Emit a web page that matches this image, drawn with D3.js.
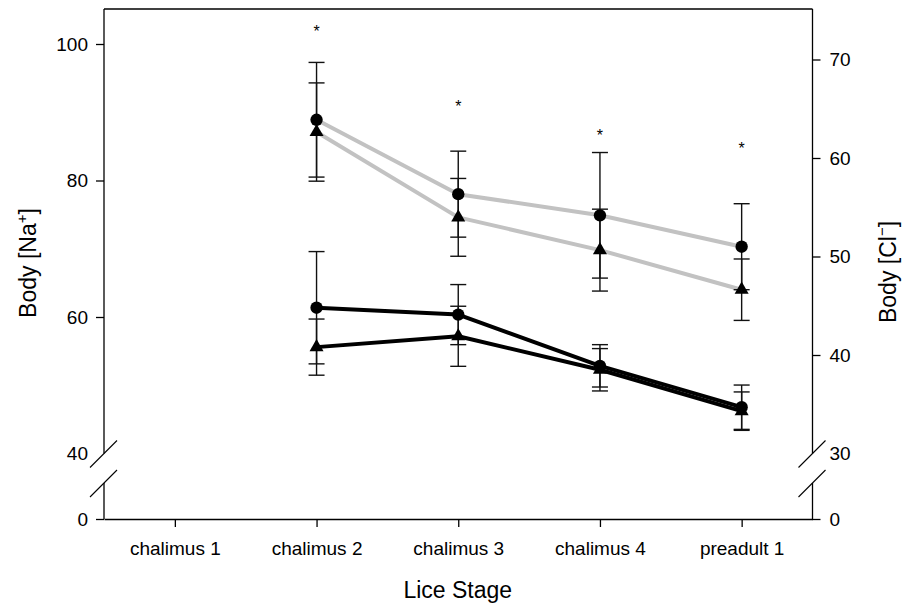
<!DOCTYPE html>
<html>
<head>
<meta charset="utf-8">
<script src="https://cdn.jsdelivr.net/npm/d3@7"></script>
<style>
  html, body { margin: 0; padding: 0; background: #fff; }
  svg { display: block; }
  text { font-family: "Liberation Sans", Arial, sans-serif; fill: #000; }
</style>
</head>
<body>
<svg id="chart" width="902" height="607"></svg>
<script>
// Lice stages along the x axis
const stages = ["chalimus 1", "chalimus 2", "chalimus 3", "chalimus 4", "preadult 1"];

// Body Na+ (left axis), grey lines
const naCircle      = [null, 88.9, 78.0, 74.9, 70.3];
const naCircleErr   = [null, 8.4, 6.3, 9.2, 6.3];
const naTriangle    = [null, 87.1, 74.6, 69.8, 64.0];
const naTriangleErr = [null, 7.2, 5.7, 6.0, 4.5];

// Body Cl- (right axis), black lines
const clCircle      = [null, 44.8, 44.1, 38.9, 34.7];
const clCircleErr   = [null, 5.7, 3.05, 2.15, 2.25];
const clTriangle    = [null, 40.8, 41.9, 38.5, 34.3];
const clTriangleErr = [null, 2.85, 3.05, 2.15, 1.95];

// Significance markers (placed in left-axis units)
const asterisks = [null, 102.3, 91.4, 87.1, 85.2];

// Axis tick values
const leftTicks  = [0, 40, 60, 80, 100];
const rightTicks = [0, 30, 40, 50, 60, 70];

const svg = d3.select("#chart");
const xL = 104, xR = 812.5, yTop = 9, yBot = 519;
const breakHi = 453.5, breakLo = 483;

const x = d3.scalePoint().domain(stages).range([xL, xR]).padding(0.5);
// broken axes: 0 sits at the bottom, the upper segment starts at the break
const yNa = d3.scaleLinear().domain([0, 40, 100]).range([yBot, breakHi, 44]);
const yCl = d3.scaleLinear().domain([0, 30, 70]).range([yBot, breakHi, 59.5]);

const font = "'Liberation Sans', Arial, sans-serif";
const tickFont = 19;

// bottom axis
svg.append("g")
  .attr("transform", `translate(0,${yBot})`)
  .call(d3.axisBottom(x).tickSize(8).tickSizeOuter(0).tickPadding(14.5))
  .call(g => g.attr("font-family", font).attr("font-size", tickFont))
  .call(g => g.selectAll("line, path").attr("stroke", "#000").attr("stroke-width", 1.3));

// left axis
svg.append("g")
  .attr("transform", `translate(${xL},0)`)
  .call(d3.axisLeft(yNa).tickValues(leftTicks).tickSize(8).tickPadding(8))
  .call(g => g.select(".domain").remove())
  .call(g => g.selectAll(".tick").filter(d => d === 40).select("line").remove())
  .call(g => g.attr("font-family", font).attr("font-size", tickFont))
  .call(g => g.selectAll("line").attr("stroke", "#000").attr("stroke-width", 1.3));

// right axis
svg.append("g")
  .attr("transform", `translate(${xR},0)`)
  .call(d3.axisRight(yCl).tickValues(rightTicks).tickSize(8).tickPadding(9))
  .call(g => g.select(".domain").remove())
  .call(g => g.selectAll(".tick").filter(d => d === 30).select("line").remove())
  .call(g => g.attr("font-family", font).attr("font-size", tickFont))
  .call(g => g.selectAll("line").attr("stroke", "#000").attr("stroke-width", 1.3));

// frame lines with axis breaks
const frame = svg.append("g").attr("stroke", "#000").attr("stroke-width", 1.3).attr("fill", "none");
frame.append("line").attr("x1", xL).attr("x2", xR).attr("y1", yTop).attr("y2", yTop);
[xL, xR].forEach(ax => {
  frame.append("line").attr("x1", ax).attr("x2", ax).attr("y1", yTop).attr("y2", breakHi);
  frame.append("line").attr("x1", ax).attr("x2", ax).attr("y1", breakLo).attr("y2", yBot);
  [breakHi, breakLo].forEach(by => {
    frame.append("line")
      .attr("x1", ax - 14).attr("y1", by + 14)
      .attr("x2", ax + 13).attr("y2", by - 13)
      .attr("stroke-width", 1.1);
  });
});

// series definitions
const series = [
  { vals: naCircle,   err: naCircleErr,   y: yNa, color: "#c2c2c2", shape: d3.symbolCircle },
  { vals: naTriangle, err: naTriangleErr, y: yNa, color: "#c2c2c2", shape: d3.symbolTriangle },
  { vals: clCircle,   err: clCircleErr,   y: yCl, color: "#000",    shape: d3.symbolCircle },
  { vals: clTriangle, err: clTriangleErr, y: yCl, color: "#000",    shape: d3.symbolTriangle }
];

const pts = s => stages.map((st, i) => ({ st, v: s.vals[i], e: s.err[i] })).filter(p => p.v != null);

// connecting lines
series.forEach(s => {
  svg.append("path")
    .datum(pts(s))
    .attr("fill", "none")
    .attr("stroke", s.color)
    .attr("stroke-width", 4)
    .attr("stroke-linejoin", "round")
    .attr("d", d3.line().x(p => x(p.st)).y(p => s.y(p.v)));
});

// error bars
series.forEach(s => {
  const g = svg.append("g").attr("stroke", "#111").attr("stroke-width", 1.4);
  pts(s).forEach(p => {
    const cx = x(p.st), yHi = s.y(p.v + p.e), yLo = s.y(p.v - p.e);
    g.append("line").attr("x1", cx).attr("x2", cx).attr("y1", yHi).attr("y2", yLo);
    g.append("line").attr("x1", cx - 8).attr("x2", cx + 8).attr("y1", yHi).attr("y2", yHi);
    g.append("line").attr("x1", cx - 8).attr("x2", cx + 8).attr("y1", yLo).attr("y2", yLo);
  });
});

// markers
series.forEach(s => {
  svg.append("g").selectAll("path")
    .data(pts(s))
    .join("path")
    .attr("transform", p => `translate(${x(p.st)},${s.y(p.v)})`)
    .attr("d", d3.symbol().type(s.shape).size(s.shape === d3.symbolCircle ? 120 : 85))
    .attr("fill", "#000");
});

// asterisks
svg.append("g").selectAll("text")
  .data(stages.map((st, i) => ({ st, v: asterisks[i] })).filter(d => d.v != null))
  .join("text")
  .attr("x", d => x(d.st))
  .attr("y", d => yNa(d.v) + 9)
  .attr("text-anchor", "middle")
  .attr("font-size", 16)
  .text("*");

// axis titles
svg.append("text")
  .attr("x", (xL + xR) / 2 - 0.5).attr("y", 598)
  .attr("text-anchor", "middle")
  .attr("font-size", 23)
  .text("Lice Stage");

const naTitle = svg.append("text")
  .attr("transform", "translate(36,263) rotate(-90)")
  .attr("text-anchor", "middle")
  .attr("font-size", 23);
naTitle.append("tspan").text("Body [Na");
naTitle.append("tspan").attr("font-size", 15).attr("dy", -9).text("+");
naTitle.append("tspan").attr("dy", 9).text("]");

const clTitle = svg.append("text")
  .attr("transform", "translate(896,272) rotate(-90)")
  .attr("text-anchor", "middle")
  .attr("font-size", 23);
clTitle.append("tspan").text("Body [Cl");
clTitle.append("tspan").attr("font-size", 15).attr("dy", -9).text("−");
clTitle.append("tspan").attr("dy", 9).text("]");
</script>
</body>
</html>
